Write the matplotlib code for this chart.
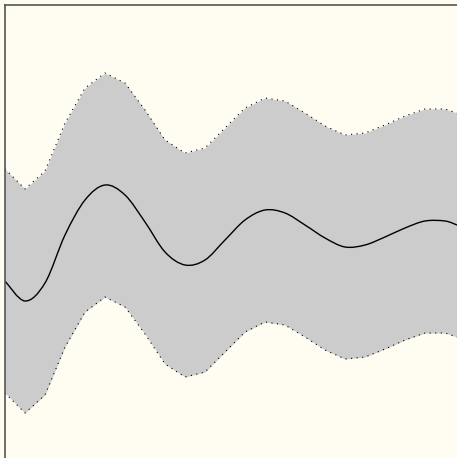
import matplotlib.pyplot as plt
from matplotlib.path import Path
from matplotlib.patches import PathPatch

# data (sampled along the x axis)
x = [0, 1, 2, 3, 4, 5, 6, 7, 8, 9, 10, 11, 12, 13, 14, 15, 16, 17, 18, 19, 20, 21, 22, 22.6]
mid = [177, 157, 175, 223, 258, 273, 263, 236, 206, 193, 198, 218, 238, 248, 245, 233,
       220, 211, 213, 221, 230, 237, 237, 233]
upper = [289, 269, 287, 335, 370, 385, 375, 348, 318, 305, 310, 330, 350, 360, 357, 345,
         332, 323, 325, 333, 342, 349, 349, 345]
lower = [65, 45, 63, 111, 146, 161, 151, 124, 94, 81, 86, 106, 126, 136, 133, 121,
         108, 99, 101, 109, 118, 125, 125, 121]

bg = "#fffdf1"

fig = plt.figure(figsize=(4.57, 4.58), dpi=100)
fig.patch.set_facecolor(bg)
ax = fig.add_axes([5 / 457, 0, 452 / 457, 453 / 458])
ax.set_facecolor(bg)

# band
ax.fill_between(x, lower, upper, color="#cccccc", linewidth=0)
ax.plot(x, upper, color="black", linewidth=0.8, linestyle=(0, (1, 4)))
ax.plot(x, lower, color="black", linewidth=0.8, linestyle=(0, (1, 4)))

# middle line, drawn as a smooth curve through the points (Catmull-Rom as Bezier)
pts = list(zip(x, mid))
verts = [pts[0]]
codes = [Path.MOVETO]
for i in range(len(pts) - 1):
    p0 = pts[i - 1] if i > 0 else pts[i]
    p1 = pts[i]
    p2 = pts[i + 1]
    p3 = pts[i + 2] if i + 2 < len(pts) else pts[i + 1]
    c1 = (p1[0] + (p2[0] - p0[0]) / 6, p1[1] + (p2[1] - p0[1]) / 6)
    c2 = (p2[0] - (p3[0] - p1[0]) / 6, p2[1] - (p3[1] - p1[1]) / 6)
    verts += [c1, c2, p2]
    codes += [Path.CURVE4] * 3
ax.add_patch(PathPatch(Path(verts, codes), facecolor="none", edgecolor="black", linewidth=1.0))

ax.set_xlim(0, 22.6)
ax.set_ylim(0, 453)
ax.set_xticks([])
ax.set_yticks([])

for side in ["right", "bottom"]:
    ax.spines[side].set_visible(False)
for side in ["left", "top"]:
    ax.spines[side].set_color("#555555")
    ax.spines[side].set_linewidth(1.2)

fig.savefig("out.png", dpi=100, facecolor=bg)
